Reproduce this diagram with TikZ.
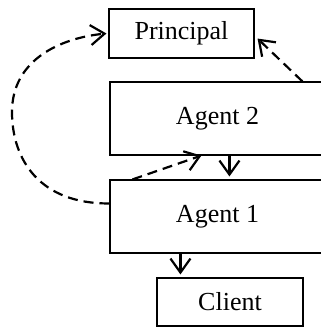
\documentclass[tikz,border=0pt]{standalone}
\usepackage{fontspec}
\setmainfont{Liberation Serif}
\usetikzlibrary{arrows.meta,calc}
\begin{document}
\begin{tikzpicture}[x=1pt,y=-1pt,
  box/.style={draw,line width=1.1pt,inner sep=0pt,font=\fontsize{26}{30}\selectfont},
  flow/.style={line width=2.2pt,-{Straight Barb[length=14pt,width=20pt,line width=2.2pt]}},
  dflow/.style={flow,dash pattern=on 10pt off 6pt}]
\useasboundingbox (0,0) rectangle (321,327);
\begin{scope}[overlay]
\clip (0,0) rectangle (321,327);
\node[box,minimum width=145pt,minimum height=49pt] (p) at (181.5,33.5) {Principal};
\node[box,minimum width=215pt,minimum height=73pt] (a2) at (217.5,118.5) {Agent 2};
\node[box,minimum width=215pt,minimum height=73pt] (a1) at (217.5,216.5) {Agent 1};
\node[box,minimum width=146pt,minimum height=48pt] (c) at (230,302) {Client};
\draw[flow] ($(a2.south west)+(120,0)$) -- ($(a1.north west)+(120,-3)$);
\draw[flow] ($(a1.south west)+(71,0)$) -- ($(c.north west)+(24,-3)$);
\draw[dflow] ($(a1.north west)+(23,0)$) -- ($(a2.south west)+(92,0)$);
\draw[dflow] ($(a2.north west)+(193,0)$) -- ($(p.south east)+(3,-20)$);
\draw[dflow] ($(a1.north west)+(0,24)$) .. controls (40,204) and (12,160) .. (12,112)
  .. controls (12,60) and (60,38) .. ($(p.west)+(-2,0)$);
\end{scope}
\end{tikzpicture}
\end{document}
